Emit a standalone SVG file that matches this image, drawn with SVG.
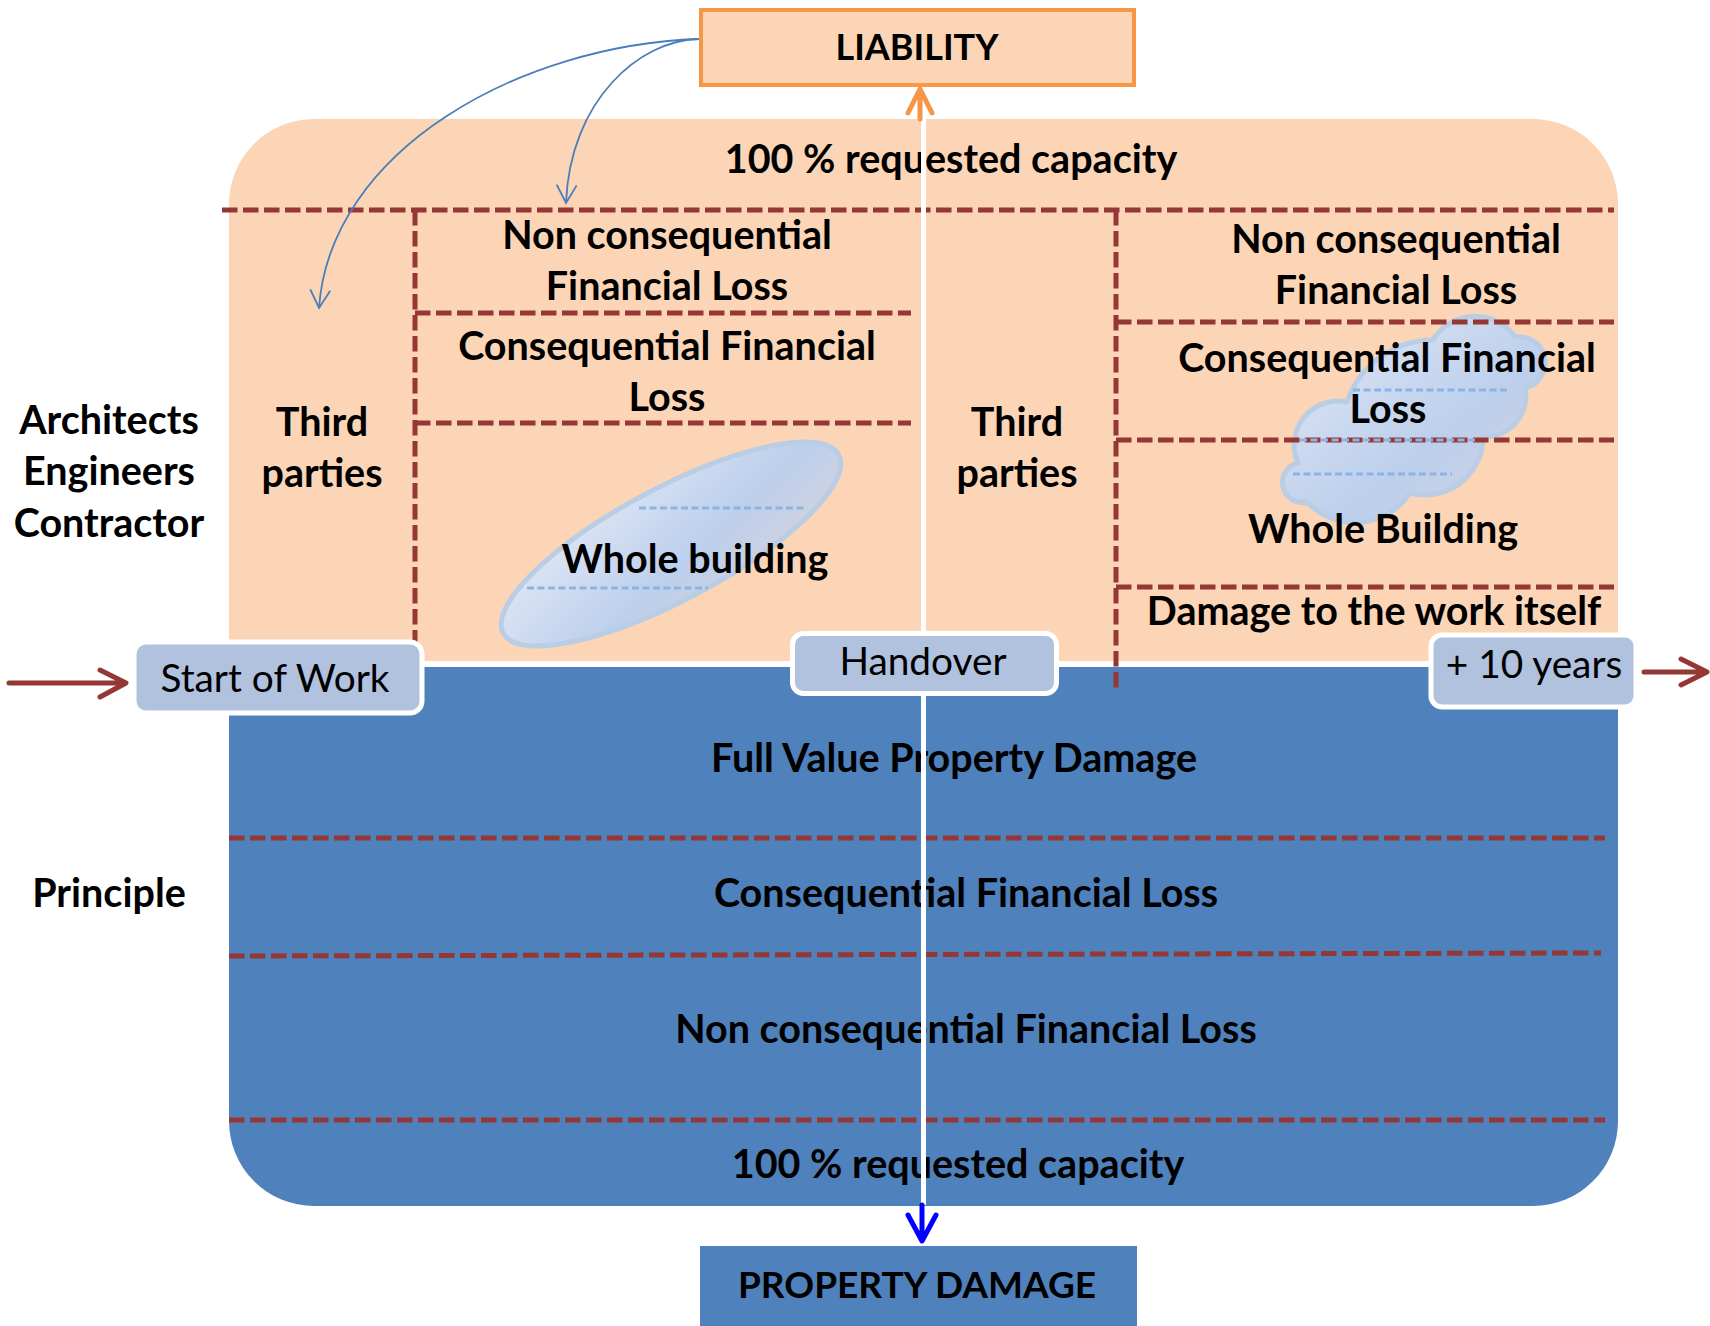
<svg xmlns="http://www.w3.org/2000/svg" width="1710" height="1326" viewBox="0 0 1710 1326">
<style>
.b{font-family:Lato,"Liberation Sans",sans-serif;font-weight:700;font-size:39.5px;fill:#000;text-anchor:middle}
.c{font-size:36px}
.r{font-family:Lato,"Liberation Sans",sans-serif;font-weight:400;font-size:38.8px;fill:#000;text-anchor:middle}
.rd{fill:none;stroke:#953735;stroke-width:5;stroke-dasharray:15.5 5.5}
.bd{fill:none;stroke:#8DB3E2;stroke-width:3;stroke-dasharray:7 3.5}
.lbl{fill:#B1C2DF;stroke:#fff;stroke-width:5}
.bl{fill:none;stroke:#4A7EBB;stroke-width:1.8}
</style>
<defs>
<linearGradient id="g1" x1="0" y1="0" x2="1" y2="1">
<stop offset="0" stop-color="#E3E9F6"/>
<stop offset="0.6" stop-color="#BCCFEC"/>
<stop offset="1" stop-color="#D6D3DD"/>
</linearGradient>
<marker id="ab" markerUnits="userSpaceOnUse" viewBox="-20 -12 22 24" refX="0" refY="0" markerWidth="22" markerHeight="24" orient="auto">
<path d="M-18,-10 L0,0 L-18,10" fill="none" stroke="#4A7EBB" stroke-width="1.8"/>
</marker>
</defs>

<g id="background">
<path d="M229,204 A85,85 0 0 1 314,119 H1533 A85,85 0 0 1 1618,204 V661 H229 Z" fill="#FBD5B5"/>
<path d="M229,667 H1618 V1121 A85,85 0 0 1 1533,1206 H314 A85,85 0 0 1 229,1121 Z" fill="#4F81BD"/>
</g>

<g id="shapes">
<ellipse cx="671" cy="544" rx="190" ry="56" transform="rotate(-28 671 544)" fill="url(#g1)" stroke="#B9CDE5" stroke-width="5"/>
<path d="M1433,340 A49,49 0 0 1 1515,337 A26,26 0 0 1 1525,388 A41,41 0 0 1 1483,437 A58,58 0 0 1 1410,493 A66,66 0 0 1 1307,502 A20,20 0 0 1 1298,463 A44,44 0 0 1 1347,402 A91,91 0 0 1 1433,340 Z" fill="url(#g1)" stroke="#B9CDE5" stroke-width="5" stroke-linejoin="round"/>
</g>

<g id="dividers">
<path class="rd" d="M222,210 H1614"/>
<path class="rd" d="M415,210 V643"/>
<path class="rd" d="M415,313 H911"/>
<path class="rd" d="M415,423 H911"/>
<path class="rd" d="M1116,210 V692"/>
<path class="rd" d="M1116,322 H1614"/>
<path class="rd" d="M1116,440 H1614"/>
<path class="rd" d="M1116,587 H1614"/>
<path class="rd" d="M229,838 H1605"/>
<path class="rd" d="M229,956 L1601,953"/>
<path class="rd" d="M229,1120 H1605"/>
<path class="bd" d="M639,508 H805"/>
<path class="bd" d="M527,588 H708"/>
<path class="bd" d="M1353,390 H1507"/>
<path class="bd" d="M1300,440 H1477"/>
<path class="bd" d="M1293,474 H1452"/>
</g>

<g id="texts">
<text class="b" x="951" y="173">100 % requested capacity</text>
<g id="left-ncfl"><text class="b" x="667" y="249">Non consequential</text><text class="b" x="667" y="300">Financial Loss</text></g>
<g id="left-cfl"><text class="b" x="667" y="360">Consequential Financial</text><text class="b" x="667" y="411">Loss</text></g>
<g id="left-whole"><text class="b" x="695" y="573">Whole building</text></g>
<g id="left-third"><text class="b" x="322" y="436">Third</text><text class="b" x="322" y="487">parties</text></g>
<g id="actors"><text class="b" x="109" y="434">Architects</text><text class="b" x="109" y="485">Engineers</text><text class="b" x="109" y="537">Contractor</text></g>
<g id="right-third"><text class="b" x="1017" y="436">Third</text><text class="b" x="1017" y="487">parties</text></g>
<g id="right-ncfl"><text class="b" x="1396" y="253">Non consequential</text><text class="b" x="1396" y="304">Financial Loss</text></g>
<g id="right-cfl"><text class="b" x="1387" y="372">Consequential Financial</text><text class="b" x="1388" y="423">Loss</text></g>
<g id="right-whole"><text class="b" x="1383" y="543">Whole Building</text></g>
<g id="right-damage"><text class="b" x="1374" y="625">Damage to the work itself</text></g>
<g id="principle"><text class="b" x="109" y="907">Principle</text></g>
<g id="fvpd"><text class="b" x="954" y="772">Full Value Property Damage</text></g>
<g id="pd-cfl"><text class="b" x="966" y="907">Consequential Financial Loss</text></g>
<g id="pd-ncfl"><text class="b" x="966" y="1043">Non consequential Financial Loss</text></g>
<g id="pd-cap"><text class="b" x="958" y="1178">100 % requested capacity</text></g>
</g>

<g id="connectors">
<path d="M923.5,119 V1205" stroke="#fff" stroke-width="5" fill="none"/>
<path d="M920,119 V89 M908,113 L920,89 L932,113" stroke="#F79646" stroke-width="5" fill="none" stroke-linecap="round" stroke-linejoin="round"/>
<path d="M922,1205 V1240 M908,1215 L922,1241 L936,1215" stroke="#0000FF" stroke-width="5" fill="none" stroke-linecap="round" stroke-linejoin="round"/>
<path class="bl" d="M699,39 C520,45 330,150 319,308" marker-end="url(#ab)"/>
<path class="bl" d="M699,39 C640,40 570,100 566,203" marker-end="url(#ab)"/>
<path d="M9,683 H124 M100,670 L126,683 L100,697" stroke="#953735" stroke-width="5" fill="none" stroke-linecap="round" stroke-linejoin="round"/>
<path d="M1644,672 H1705 M1681,659 L1707,672 L1681,685" stroke="#953735" stroke-width="5" fill="none" stroke-linecap="round" stroke-linejoin="round"/>
</g>

<g id="liability">
<rect x="701" y="10" width="433" height="75" fill="#FBD5B5" stroke="#F79646" stroke-width="4"/>
<text class="b c" x="917" y="60">LIABILITY</text>
</g>

<g id="property-damage">
<rect x="700" y="1246" width="437" height="90" fill="#4F81BD"/>
<text class="b" x="917" y="1298" style="font-size:37px">PROPERTY DAMAGE</text>
</g>

<g id="start-of-work">
<rect class="lbl" x="134" y="642" width="288" height="71" rx="12"/>
<text class="r" x="275" y="692">Start of Work</text>
</g>

<g id="handover">
<rect class="lbl" x="792.5" y="633.5" width="264" height="60" rx="11"/>
<text class="r" x="923" y="675">Handover</text>
</g>

<g id="ten-years">
<rect class="lbl" x="1431" y="635" width="205" height="72" rx="11"/>
<text class="r" x="1534" y="678">+ 10 years</text>
</g>
</svg>
